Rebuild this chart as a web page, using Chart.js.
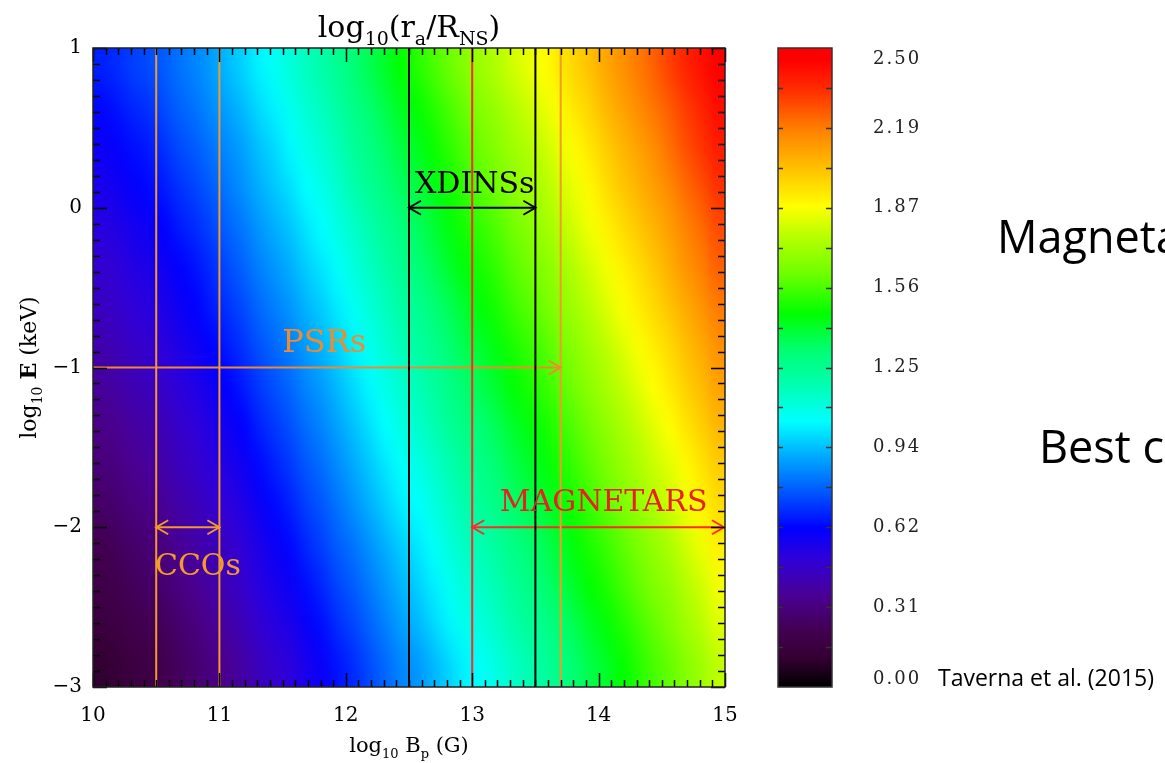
<!DOCTYPE html>
<html>
<head>
<meta charset="utf-8">
<script src="https://cdn.jsdelivr.net/npm/chart.js"></script>
<style>
  html, body { margin: 0; padding: 0; background: #fff; }
  canvas { display: block; }
</style>
</head>
<body>
<canvas id="chart" width="1165" height="763"></canvas>
<script>
// -------------------- Data --------------------
// axis ranges
const xRange = [10, 15];   // log10 Bp (G)
const yRange = [-3, 1];    // log10 E (keV)

// cell centres of the log10(ra/RNS) map
const bCells = [10.0625, 10.1875, 10.3125, 10.4375, 10.5625, 10.6875, 10.8125, 10.9375,
  11.0625, 11.1875, 11.3125, 11.4375, 11.5625, 11.6875, 11.8125, 11.9375,
  12.0625, 12.1875, 12.3125, 12.4375, 12.5625, 12.6875, 12.8125, 12.9375,
  13.0625, 13.1875, 13.3125, 13.4375, 13.5625, 13.6875, 13.8125, 13.9375,
  14.0625, 14.1875, 14.3125, 14.4375, 14.5625, 14.6875, 14.8125, 14.9375];
const eRows = [0.875, 0.625, 0.375, 0.125, -0.125, -0.375, -0.625, -0.875,
  -1.125, -1.375, -1.625, -1.875, -2.125, -2.375, -2.625, -2.875];

// log10(ra/RNS) per row (one array per E row)
const r0875 = [0.67,0.69,0.72,0.74, 0.77,0.81,0.84,0.88, 0.93,0.97,1.02,1.06, 1.11,1.16,1.20,1.25, 1.31,1.36,1.41,1.46, 1.51,1.56,1.61,1.66, 1.71,1.75,1.80,1.84, 1.88,1.93,1.98,2.03, 2.09,2.14,2.19,2.24, 2.30,2.36,2.41,2.47];
const r0625 = [0.63,0.65,0.68,0.70, 0.74,0.78,0.81,0.85, 0.89,0.93,0.98,1.02, 1.07,1.12,1.16,1.21, 1.27,1.32,1.37,1.42, 1.46,1.51,1.56,1.61, 1.66,1.70,1.75,1.79, 1.84,1.89,1.94,1.99, 2.05,2.10,2.15,2.20, 2.25,2.31,2.36,2.42];
const r0375 = [0.59,0.61,0.64,0.66, 0.70,0.74,0.77,0.81, 0.85,0.89,0.94,0.98, 1.03,1.08,1.12,1.17, 1.23,1.28,1.33,1.38, 1.42,1.47,1.52,1.57, 1.62,1.66,1.71,1.75, 1.79,1.84,1.89,1.94, 2.00,2.05,2.10,2.15, 2.21,2.27,2.32,2.38];
const r0125 = [0.56,0.58,0.61,0.63, 0.66,0.70,0.73,0.77, 0.82,0.86,0.91,0.95, 0.99,1.04,1.08,1.13, 1.19,1.24,1.29,1.34, 1.38,1.43,1.48,1.53, 1.58,1.62,1.67,1.71, 1.75,1.80,1.85,1.90, 1.96,2.01,2.06,2.11, 2.16,2.22,2.27,2.33];
const rm0125 = [0.52,0.54,0.57,0.59, 0.62,0.66,0.69,0.73, 0.78,0.82,0.87,0.91, 0.95,1.00,1.04,1.09, 1.14,1.19,1.24,1.29, 1.34,1.39,1.44,1.49, 1.53,1.57,1.62,1.66, 1.71,1.76,1.81,1.86, 1.91,1.96,2.01,2.06, 2.11,2.17,2.22,2.28];
const rm0375 = [0.48,0.50,0.53,0.55, 0.58,0.62,0.65,0.69, 0.74,0.78,0.83,0.87, 0.91,0.96,1.00,1.05, 1.10,1.15,1.20,1.25, 1.30,1.35,1.40,1.45, 1.49,1.53,1.58,1.62, 1.66,1.71,1.76,1.81, 1.86,1.91,1.96,2.01, 2.07,2.13,2.18,2.24];
const rm0625 = [0.45,0.47,0.50,0.52, 0.55,0.59,0.62,0.66, 0.70,0.74,0.79,0.83, 0.87,0.92,0.96,1.01, 1.06,1.11,1.16,1.21, 1.25,1.30,1.35,1.40, 1.45,1.49,1.54,1.58, 1.62,1.67,1.72,1.77, 1.82,1.87,1.92,1.97, 2.02,2.08,2.13,2.19];
const rm0875 = [0.41,0.43,0.46,0.48, 0.51,0.55,0.58,0.62, 0.66,0.70,0.75,0.79, 0.83,0.88,0.92,0.97, 1.02,1.07,1.12,1.17, 1.21,1.26,1.31,1.36, 1.40,1.44,1.49,1.53, 1.57,1.62,1.67,1.72, 1.77,1.82,1.87,1.92, 1.97,2.03,2.08,2.14];
const rm1125 = [0.37,0.39,0.42,0.44, 0.47,0.51,0.54,0.58, 0.62,0.66,0.71,0.75, 0.79,0.84,0.88,0.93, 0.98,1.03,1.08,1.13, 1.17,1.22,1.27,1.32, 1.36,1.40,1.45,1.49, 1.53,1.58,1.63,1.68, 1.73,1.78,1.83,1.88, 1.93,1.99,2.04,2.10];
const rm1375 = [0.33,0.35,0.38,0.40, 0.43,0.47,0.50,0.54, 0.58,0.62,0.67,0.71, 0.75,0.80,0.84,0.89, 0.94,0.99,1.04,1.09, 1.13,1.18,1.23,1.28, 1.31,1.35,1.40,1.44, 1.48,1.53,1.58,1.63, 1.68,1.73,1.78,1.83, 1.88,1.94,1.99,2.05];
const rm1625 = [0.30,0.32,0.35,0.37, 0.40,0.44,0.47,0.51, 0.54,0.58,0.63,0.67, 0.71,0.76,0.80,0.85, 0.90,0.95,1.00,1.05, 1.08,1.13,1.18,1.23, 1.27,1.31,1.36,1.40, 1.44,1.49,1.54,1.59, 1.64,1.69,1.74,1.79, 1.83,1.89,1.94,2.00];
const rm1875 = [0.26,0.28,0.31,0.33, 0.36,0.40,0.43,0.47, 0.50,0.54,0.59,0.63, 0.67,0.72,0.76,0.81, 0.86,0.91,0.96,1.01, 1.04,1.09,1.14,1.19, 1.23,1.27,1.32,1.36, 1.39,1.44,1.49,1.54, 1.59,1.64,1.69,1.74, 1.79,1.85,1.90,1.96];
const rm2125 = [0.22,0.24,0.27,0.29, 0.32,0.36,0.39,0.43, 0.46,0.50,0.55,0.59, 0.63,0.68,0.72,0.77, 0.81,0.86,0.91,0.96, 1.00,1.05,1.10,1.15, 1.18,1.22,1.27,1.31, 1.35,1.40,1.45,1.50, 1.54,1.59,1.64,1.69, 1.74,1.80,1.85,1.91];
const rm2375 = [0.19,0.21,0.24,0.26, 0.28,0.32,0.35,0.39, 0.43,0.47,0.52,0.56, 0.59,0.64,0.68,0.73, 0.77,0.82,0.87,0.92, 0.96,1.01,1.06,1.11, 1.14,1.18,1.23,1.27, 1.31,1.36,1.41,1.46, 1.50,1.55,1.60,1.65, 1.69,1.75,1.80,1.86];
const rm2625 = [0.15,0.17,0.20,0.22, 0.24,0.28,0.31,0.35, 0.39,0.43,0.48,0.52, 0.55,0.60,0.64,0.69, 0.73,0.78,0.83,0.88, 0.92,0.97,1.02,1.07, 1.10,1.14,1.19,1.23, 1.26,1.31,1.36,1.41, 1.45,1.50,1.55,1.60, 1.65,1.71,1.76,1.82];
const rm2875 = [0.11,0.13,0.16,0.18, 0.21,0.25,0.28,0.32, 0.35,0.39,0.44,0.48, 0.51,0.56,0.60,0.65, 0.69,0.74,0.79,0.84, 0.87,0.92,0.97,1.02, 1.05,1.09,1.14,1.18, 1.22,1.27,1.32,1.37, 1.41,1.46,1.51,1.56, 1.60,1.66,1.71,1.77];
const fieldRows = [r0875, r0625, r0375, r0125, rm0125, rm0375, rm0625, rm0875,
  rm1125, rm1375, rm1625, rm1875, rm2125, rm2375, rm2625, rm2875];

// source classes
const orangeLines = [10.5, 11, 13.7];
const blackLines = [12.5, 13.5];
const redLines = [13];
const psrSpan = [10, 13.7];       const psrE = -1;
const xdinsSpan = [12.5, 13.5];   const xdinsE = 0;
const ccoSpan = [10.5, 11];       const ccoE = -2;
const magnetarSpan = [13, 15];    const magnetarE = -2;

// colour bar
const cbRange = [0, 2.5];
const cbTickValues = [0, 0.3125, 0.625, 0.9375, 1.25, 1.5625, 1.875, 2.1875, 2.5];
const cbTickLabels = ["0.00", "0.31", "0.62", "0.94", "1.25", "1.56", "1.87", "2.19", "2.50"];


// -------------------- Colour map --------------------
const cmapStops = [0, 0.12, 0.22, 0.35, 0.5, 0.62, 0.75, 0.9, 1.04, 1.2, 1.32, 1.46, 1.62, 1.75, 1.88, 2.03, 2.18, 2.33, 2.45, 2.5];
const cmapColors = ["#000000", "#360035", "#420050", "#4a0090", "#3000d8", "#0000ff", "#0050ff", "#00a8ff", "#00ffff", "#00ffa8",
  "#00ff70", "#00ff00", "#70ff00", "#b0ff00", "#ffff00", "#ffc000", "#ff8000", "#ff3000", "#ff0000", "#ff0000"];
const cmapRgb = cmapColors.map(h => [1, 3, 5].map(i => parseInt(h.slice(i, i + 2), 16)));

function rgbFor(v) {
  v = Math.max(cmapStops[0], Math.min(cmapStops[cmapStops.length - 1], v));
  let i = 0;
  while (i < cmapStops.length - 2 && v > cmapStops[i + 1]) i++;
  const t = (v - cmapStops[i]) / (cmapStops[i + 1] - cmapStops[i]);
  const a = cmapRgb[i], b = cmapRgb[i + 1];
  return a.map((x, k) => Math.round(x + (b[k] - x) * t));
}
function colorFor(v) {
  const c = rgbFor(v);
  return `rgb(${c[0]},${c[1]},${c[2]})`;
}

const ORANGE = "#f39a2c";
const PSR_ORANGE = "#f08a2e";
const RED = "#ff2a2a";
const SERIF = "'DejaVu Serif', 'Liberation Serif', serif";
const SANS = "'Open Sans', 'Liberation Sans', sans-serif";


// -------------------- Datasets --------------------
const cells = [];
eRows.forEach((e, r) => bCells.forEach((b, c) => cells.push({ x: b, y: e, v: fieldRows[r][c], row: r, col: c })));
const cellW = bCells[1] - bCells[0];
const cellH = eRows[0] - eRows[1];

function segment(points, color, width) {
  return { data: points, showLine: true, borderColor: color, borderWidth: width, pointRadius: 0, pointHoverRadius: 0, fill: false };
}

const datasets = [{ label: "map", data: cells, pointRadius: 0, pointHoverRadius: 0, showLine: false }];
orangeLines.forEach(b => datasets.push(segment([{ x: b, y: yRange[0] }, { x: b, y: yRange[1] }], ORANGE, 2)));
redLines.forEach(b => datasets.push(segment([{ x: b, y: yRange[0] }, { x: b, y: yRange[1] }], RED, 2)));
blackLines.forEach(b => datasets.push(segment([{ x: b, y: yRange[0] }, { x: b, y: yRange[1] }], "#000", 2)));
datasets.push(segment(psrSpan.map(b => ({ x: b, y: psrE })), PSR_ORANGE, 2));
datasets.push(segment(xdinsSpan.map(b => ({ x: b, y: xdinsE })), "#000", 2));
datasets.push(segment(ccoSpan.map(b => ({ x: b, y: ccoE })), ORANGE, 2));
datasets.push(segment(magnetarSpan.map(b => ({ x: b, y: magnetarE })), RED, 2));


// -------------------- Helpers --------------------
// text with subscripts: parts = [[text, 'n' | 's' | 'b'], ...]
function richText(ctx, parts, x, y, size, family) {
  const fontFor = k => k === "s" ? `${Math.round(size * 0.62)}px ${family}` : (k === "b" ? `bold ${size}px ${family}` : `${size}px ${family}`);
  const widths = parts.map(([t, k]) => { ctx.font = fontFor(k); return ctx.measureText(t).width; });
  let cx = x - widths.reduce((a, b) => a + b, 0) / 2;
  ctx.textAlign = "left";
  ctx.textBaseline = "alphabetic";
  parts.forEach(([t, k], i) => {
    ctx.font = fontFor(k);
    ctx.fillText(t, cx, k === "s" ? y + size * 0.28 : y);
    cx += widths[i];
  });
}

function chevron(ctx, px, py, dir, color) {
  ctx.strokeStyle = color;
  ctx.lineWidth = 2;
  ctx.beginPath();
  ctx.moveTo(px - dir * 12, py - 7);
  ctx.lineTo(px, py);
  ctx.lineTo(px - dir * 12, py + 7);
  ctx.stroke();
}


// -------------------- Plugin: map, marks, frame, colour bar --------------------
const mapPlugin = {
  id: "mapPlugin",
  beforeDatasetsDraw(chart) {
    const { ctx, chartArea: a, scales: { x, y } } = chart;
    const pts = chart.data.datasets[0].data;

    // one pixel per cell, then scaled onto the cell extent given by the scales
    const img = document.createElement("canvas");
    img.width = bCells.length;
    img.height = eRows.length;
    const ictx = img.getContext("2d");
    const id = ictx.createImageData(img.width, img.height);
    pts.forEach(c => {
      const k = (c.row * img.width + c.col) * 4;
      const rgb = rgbFor(c.v);
      id.data[k] = rgb[0]; id.data[k + 1] = rgb[1]; id.data[k + 2] = rgb[2]; id.data[k + 3] = 255;
    });
    ictx.putImageData(id, 0, 0);

    const x0 = x.getPixelForValue(bCells[0] - cellW / 2);
    const x1 = x.getPixelForValue(bCells[bCells.length - 1] + cellW / 2);
    const y0 = y.getPixelForValue(eRows[0] + cellH / 2);
    const y1 = y.getPixelForValue(eRows[eRows.length - 1] - cellH / 2);

    ctx.save();
    ctx.beginPath();
    ctx.rect(a.left, a.top, a.width, a.height);
    ctx.clip();
    ctx.imageSmoothingEnabled = true;
    ctx.imageSmoothingQuality = "high";
    ctx.drawImage(img, x0, y0, x1 - x0, y1 - y0);
    ctx.restore();
  },
  afterDatasetsDraw(chart) {
    const { ctx, chartArea: a, scales: { x, y } } = chart;
    ctx.save();

    // arrow heads
    chevron(ctx, x.getPixelForValue(psrSpan[1]), y.getPixelForValue(psrE), 1, PSR_ORANGE);
    chevron(ctx, x.getPixelForValue(xdinsSpan[0]), y.getPixelForValue(xdinsE), -1, "#000");
    chevron(ctx, x.getPixelForValue(xdinsSpan[1]), y.getPixelForValue(xdinsE), 1, "#000");
    chevron(ctx, x.getPixelForValue(ccoSpan[0]), y.getPixelForValue(ccoE), -1, ORANGE);
    chevron(ctx, x.getPixelForValue(ccoSpan[1]), y.getPixelForValue(ccoE), 1, ORANGE);
    chevron(ctx, x.getPixelForValue(magnetarSpan[0]), y.getPixelForValue(magnetarE), -1, RED);
    chevron(ctx, x.getPixelForValue(magnetarSpan[1]) - 1, y.getPixelForValue(magnetarE), 1, RED);

    // class labels
    ctx.textAlign = "center";
    ctx.textBaseline = "alphabetic";
    ctx.font = `32px ${SERIF}`;
    ctx.fillStyle = PSR_ORANGE;
    ctx.fillText("PSRs", x.getPixelForValue(11.83), y.getPixelForValue(-0.9));
    ctx.font = `30px ${SERIF}`;
    ctx.fillStyle = "#000";
    ctx.fillText("XDINSs", x.getPixelForValue(13.02), y.getPixelForValue(0.09));
    ctx.fillStyle = ORANGE;
    ctx.fillText("CCOs", x.getPixelForValue(10.83), y.getPixelForValue(-2.3));
    ctx.fillStyle = "#e82020";
    ctx.fillText("MAGNETARS", x.getPixelForValue(14.04), y.getPixelForValue(-1.9));

    // inward ticks on all four sides
    ctx.strokeStyle = "#000";
    ctx.lineWidth = 1.5;
    ctx.beginPath();
    for (let i = 0; i <= (xRange[1] - xRange[0]) * 10; i++) {
      const px = Math.round(x.getPixelForValue(xRange[0] + i / 10)) + 0.5;
      const len = i % 10 === 0 ? 14 : 7;
      ctx.moveTo(px, a.bottom); ctx.lineTo(px, a.bottom - len);
      ctx.moveTo(px, a.top); ctx.lineTo(px, a.top + len);
    }
    for (let i = 0; i <= (yRange[1] - yRange[0]) * 10; i++) {
      const py = Math.round(y.getPixelForValue(yRange[0] + i / 10)) + 0.5;
      const len = i % 10 === 0 ? 14 : 7;
      ctx.moveTo(a.left, py); ctx.lineTo(a.left + len, py);
      ctx.moveTo(a.right, py); ctx.lineTo(a.right - len, py);
    }
    ctx.stroke();

    // frame
    ctx.strokeStyle = "#222";
    ctx.lineWidth = 1.5;
    ctx.strokeRect(a.left, a.top, a.width, a.height);
    ctx.restore();
  },
  afterDraw(chart) {
    const { ctx, chartArea: a, scales: { cb } } = chart;
    const midX = (a.left + a.right) / 2;
    ctx.save();
    ctx.fillStyle = "#000";

    // title and axis titles
    richText(ctx, [["log", "n"], ["10", "s"], ["(r", "n"], ["a", "s"], ["/R", "n"], ["NS", "s"], [")", "n"]], midX, 37, 30, SERIF);
    richText(ctx, [["log", "n"], ["10", "s"], [" B", "n"], ["p", "s"], [" (G)", "n"]], midX, 752, 21, SERIF);
    ctx.save();
    ctx.translate(36, (a.top + a.bottom) / 2);
    ctx.rotate(-Math.PI / 2);
    richText(ctx, [["log", "n"], ["10", "s"], [" ", "n"], ["E", "b"], [" (keV)", "n"]], 0, 0, 22, SERIF);
    ctx.restore();

    // colour bar, one row of pixels at a time through the cb scale
    const barL = 778, barR = 832;
    const top = cb.getPixelForValue(cbRange[1]), bottom = cb.getPixelForValue(cbRange[0]);
    for (let py = Math.floor(top); py < bottom; py++) {
      ctx.fillStyle = colorFor(cb.getValueForPixel(py + 0.5));
      ctx.fillRect(barL, py, barR - barL, 1);
    }
    ctx.strokeStyle = "#333";
    ctx.lineWidth = 1.5;
    ctx.beginPath();
    for (let k = 1; k < 16; k++) {
      const py = Math.round(cb.getPixelForValue(cbRange[1] * k / 16)) + 0.5;
      ctx.moveTo(barL, py); ctx.lineTo(barL + 5, py);
      ctx.moveTo(barR, py); ctx.lineTo(barR - 6, py);
    }
    ctx.stroke();
    ctx.strokeRect(barL, top, barR - barL, bottom - top);

    ctx.font = `18px ${SERIF}`;
    ctx.letterSpacing = "2px";
    ctx.fillStyle = "#222";
    ctx.textAlign = "left";
    ctx.textBaseline = "middle";
    cbTickValues.forEach((v, i) => {
      let py = cb.getPixelForValue(v);
      if (i === 0) py -= 8;
      if (i === cbTickValues.length - 1) py += 11;
      ctx.fillText(cbTickLabels[i], 873, py);
    });
    ctx.letterSpacing = "0px";

    // slide text to the right of the plot
    ctx.fillStyle = "#000";
    ctx.textBaseline = "alphabetic";
    ctx.font = `45px ${SANS}`;
    ctx.fillText("Magneta", 997, 253);
    ctx.fillText("Best c", 1039, 463);
    ctx.font = `23px ${SANS}`;
    ctx.fillText("Taverna et al. (2015)", 938, 686);
    ctx.restore();
  }
};


// -------------------- Chart --------------------
Chart.defaults.font.family = SERIF;
Chart.defaults.color = "#000";

new Chart(document.getElementById("chart"), {
  type: "scatter",
  data: { datasets },
  options: {
    responsive: false,
    animation: false,
    layout: { padding: { left: 0, top: 48, right: 440, bottom: 0 } },
    plugins: { legend: { display: false }, tooltip: { enabled: false } },
    scales: {
      x: {
        type: "linear", min: xRange[0], max: xRange[1], position: "bottom",
        grid: { display: false, drawTicks: false }, border: { display: false },
        ticks: { stepSize: 1, padding: 17, maxRotation: 0, font: { size: 20 }, color: "#000" },
        afterFit: s => { s.height = 76; }
      },
      y: {
        type: "linear", min: yRange[0], max: yRange[1], position: "left",
        grid: { display: false, drawTicks: false }, border: { display: false },
        ticks: { stepSize: 1, padding: 11, font: { size: 20 }, color: "#000", callback: v => String(v).replace("-", "\u2212") },
        afterFit: s => { s.width = 93; }
      },
      cb: { type: "linear", min: cbRange[0], max: cbRange[1], position: "right", display: false }
    }
  },
  plugins: [mapPlugin]
});
</script>
</body>
</html>
